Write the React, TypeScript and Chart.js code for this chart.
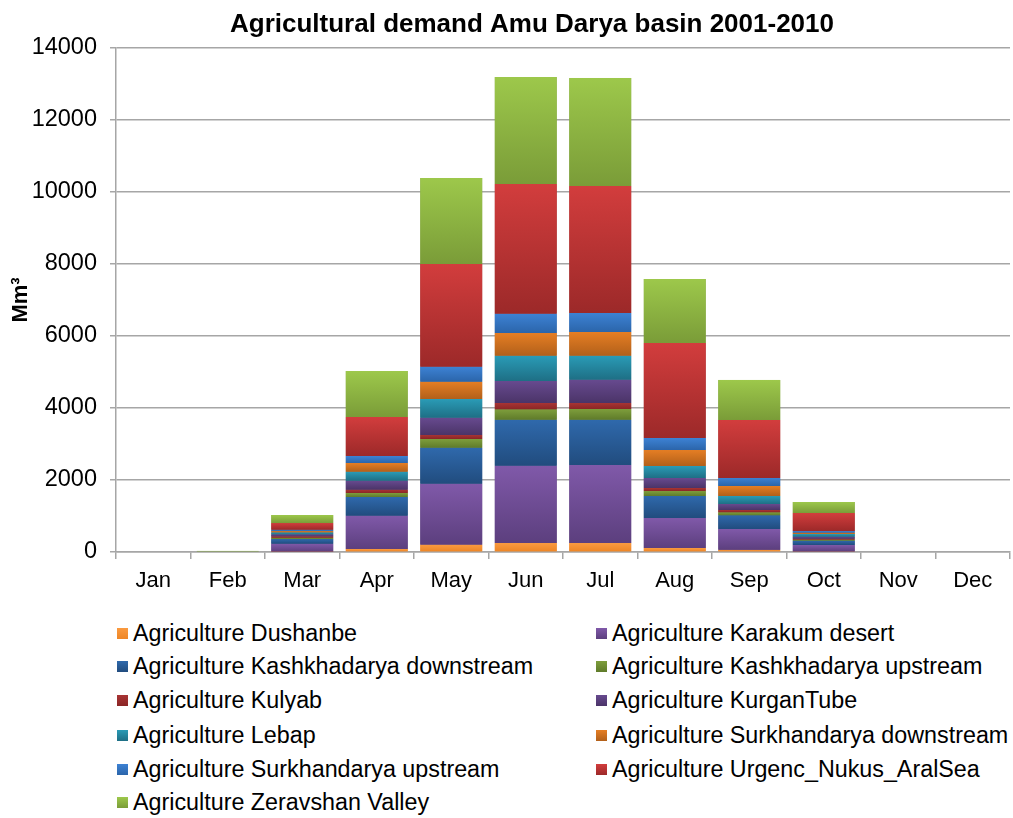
import React, { useEffect, useRef } from "react";
import { Chart, registerables } from "chart.js";
Chart.register(...registerables);

const months = ["Jan", "Feb", "Mar", "Apr", "May", "Jun", "Jul", "Aug", "Sep", "Oct", "Nov", "Dec"];
const titleText = "Agricultural demand Amu Darya basin 2001-2010";
const yTitle = "Mm³";

const seriesNames = [
  "Agriculture Dushanbe",
  "Agriculture Karakum desert",
  "Agriculture Kashkhadarya downstream",
  "Agriculture Kashkhadarya upstream",
  "Agriculture Kulyab",
  "Agriculture KurganTube",
  "Agriculture Lebap",
  "Agriculture Surkhandarya downstream",
  "Agriculture Surkhandarya upstream",
  "Agriculture Urgenc_Nukus_AralSea",
  "Agriculture Zeravshan Valley",
];

const dushanbe = [0, 0, 10, 83, 204, 250, 250, 111, 60, 15, 0, 0];
const karakum = [0, 0, 220, 926, 1694, 2147, 2167, 833, 580, 180, 0, 0];
const kashDown = [0, 0, 130, 519, 1000, 1278, 1258, 612, 380, 120, 0, 0];
const kashUp = [0, 0, 37, 111, 241, 288, 297, 138, 83, 28, 0, 0];
const kulyab = [0, 0, 37, 92, 111, 176, 167, 84, 65, 27, 0, 0];
const kurganTube = [0, 0, 56, 250, 481, 611, 648, 278, 166, 56, 0, 0];
const lebap = [0, 0, 55, 250, 519, 703, 666, 333, 223, 74, 0, 0];
const surkDown = [0, 0, 37, 241, 481, 630, 658, 444, 277, 37, 0, 0];
const surkUp = [0, 0, 37, 195, 417, 537, 528, 334, 223, 46, 0, 0];
const urgenc = [0, 0, 185, 1083, 2852, 3602, 3528, 2639, 1611, 500, 0, 0];
const zeravshan = [0, 30, 223, 1278, 2389, 2972, 3000, 1777, 1111, 306, 0, 0];

const seriesValues = [dushanbe, karakum, kashDown, kashUp, kulyab, kurganTube, lebap, surkDown, surkUp, urgenc, zeravshan];

const lightColors = ["#FA9A40", "#8059A9", "#2F69AC", "#7E9E3C", "#A83434", "#674A8F", "#2A9BB6", "#E57E24", "#3D82D4", "#D23D3D", "#9DC84B"];
const darkColors = ["#EE8626", "#5C3F7E", "#214C7E", "#5F7B2A", "#8A2626", "#4B3468", "#1E6F85", "#B2601A", "#2B65AA", "#9C2929", "#7A9C38"];

const FONT = "'Liberation Sans', Arial, sans-serif";
const GRID = "#a6a6a6";
const legendRows = [633, 666, 700, 735, 769, 802];
const legendCols = [117, 596];

export default function App() {
  const ref = useRef<HTMLCanvasElement>(null);
  useEffect(() => {
    document.body.style.margin = "0";
    const canvas = ref.current!;
    const gradPlugin = {
      id: "gradBars",
      afterDatasetsDraw(chart: any) {
        const ctx = chart.ctx;
        chart.data.datasets.forEach((_ds: any, i: number) => {
          const meta = chart.getDatasetMeta(i);
          meta.data.forEach((el: any) => {
            const top = Math.min(el.y, el.base);
            const bot = Math.max(el.y, el.base);
            if (bot - top <= 0.01) return;
            const g = ctx.createLinearGradient(0, top, 0, bot);
            g.addColorStop(0, lightColors[i]);
            g.addColorStop(1, darkColors[i]);
            ctx.save();
            ctx.fillStyle = g;
            ctx.fillRect(el.x - el.width / 2, top, el.width, bot - top);
            ctx.restore();
          });
        });
      },
    };
    const titlePlugin = {
      id: "titleDraw",
      afterDraw(chart: any) {
        const ctx = chart.ctx;
        ctx.save();
        ctx.font = `bold 26px ${FONT}`;
        ctx.textAlign = "center";
        ctx.textBaseline = "alphabetic";
        ctx.fillStyle = "#000";
        ctx.fillText(titleText, 532, 32);
        ctx.restore();
      },
    };
    const chart = new Chart(canvas, {
      type: "bar",
      data: {
        labels: months,
        datasets: seriesNames.map((name, i) => ({
          label: name,
          data: seriesValues[i],
          backgroundColor: darkColors[i],
          borderWidth: 0,
          barPercentage: 0.83,
          categoryPercentage: 1,
        })),
      },
      options: {
        animation: false,
        responsive: false,
        layout: { padding: { top: 48, right: 3, left: 0, bottom: 0 } },
        plugins: { legend: { display: false }, tooltip: { enabled: false }, title: { display: false } },
        scales: {
          x: {
            stacked: true,
            grid: { offset: true, drawOnChartArea: false, drawTicks: true, tickLength: 7, color: GRID, lineWidth: 1.5 },
            border: { color: GRID, width: 1.5 },
            ticks: { font: { family: FONT, size: 22 }, color: "#000", padding: 9, maxRotation: 0 },
            afterFit: (s: any) => { s.height = 48; },
          },
          y: {
            stacked: true,
            min: 0,
            max: 14000,
            ticks: {
              stepSize: 2000,
              font: { family: FONT, size: 23.5 },
              color: "#000",
              padding: 13,
              callback: (v: any) => String(v),
            },
            grid: { color: GRID, lineWidth: 1.5, tickLength: 6, drawTicks: true },
            border: { color: GRID, width: 1.5 },
            title: { display: true, text: yTitle, font: { family: FONT, size: 22, weight: "bold" }, color: "#000", padding: { top: 8, bottom: 0 } },
            afterFit: (s: any) => { s.width = 116; },
          },
        },
      },
      plugins: [gradPlugin, titlePlugin],
    } as any);
    return () => chart.destroy();
  }, []);

  return (
    <div style={{ position: "relative", width: 1013, height: 818, background: "#fff", fontFamily: FONT }}>
      <canvas ref={ref} width={1013} height={600} style={{ position: "absolute", left: 0, top: 0 }} />
      {seriesNames.map((name, i) => {
        const row = Math.floor(i / 2);
        const col = i % 2;
        return (
          <div
            key={name}
            style={{
              position: "absolute",
              left: legendCols[col],
              top: legendRows[row] - 13,
              height: 26,
              display: "flex",
              alignItems: "center",
              whiteSpace: "nowrap",
              fontSize: 23.3,
              color: "#000",
            }}
          >
            <span
              style={{
                display: "inline-block",
                width: 11,
                height: 11,
                marginRight: 5,
                background: `linear-gradient(${lightColors[i]}, ${darkColors[i]})`,
              }}
            />
            <span>{name}</span>
          </div>
        );
      })}
    </div>
  );
}
